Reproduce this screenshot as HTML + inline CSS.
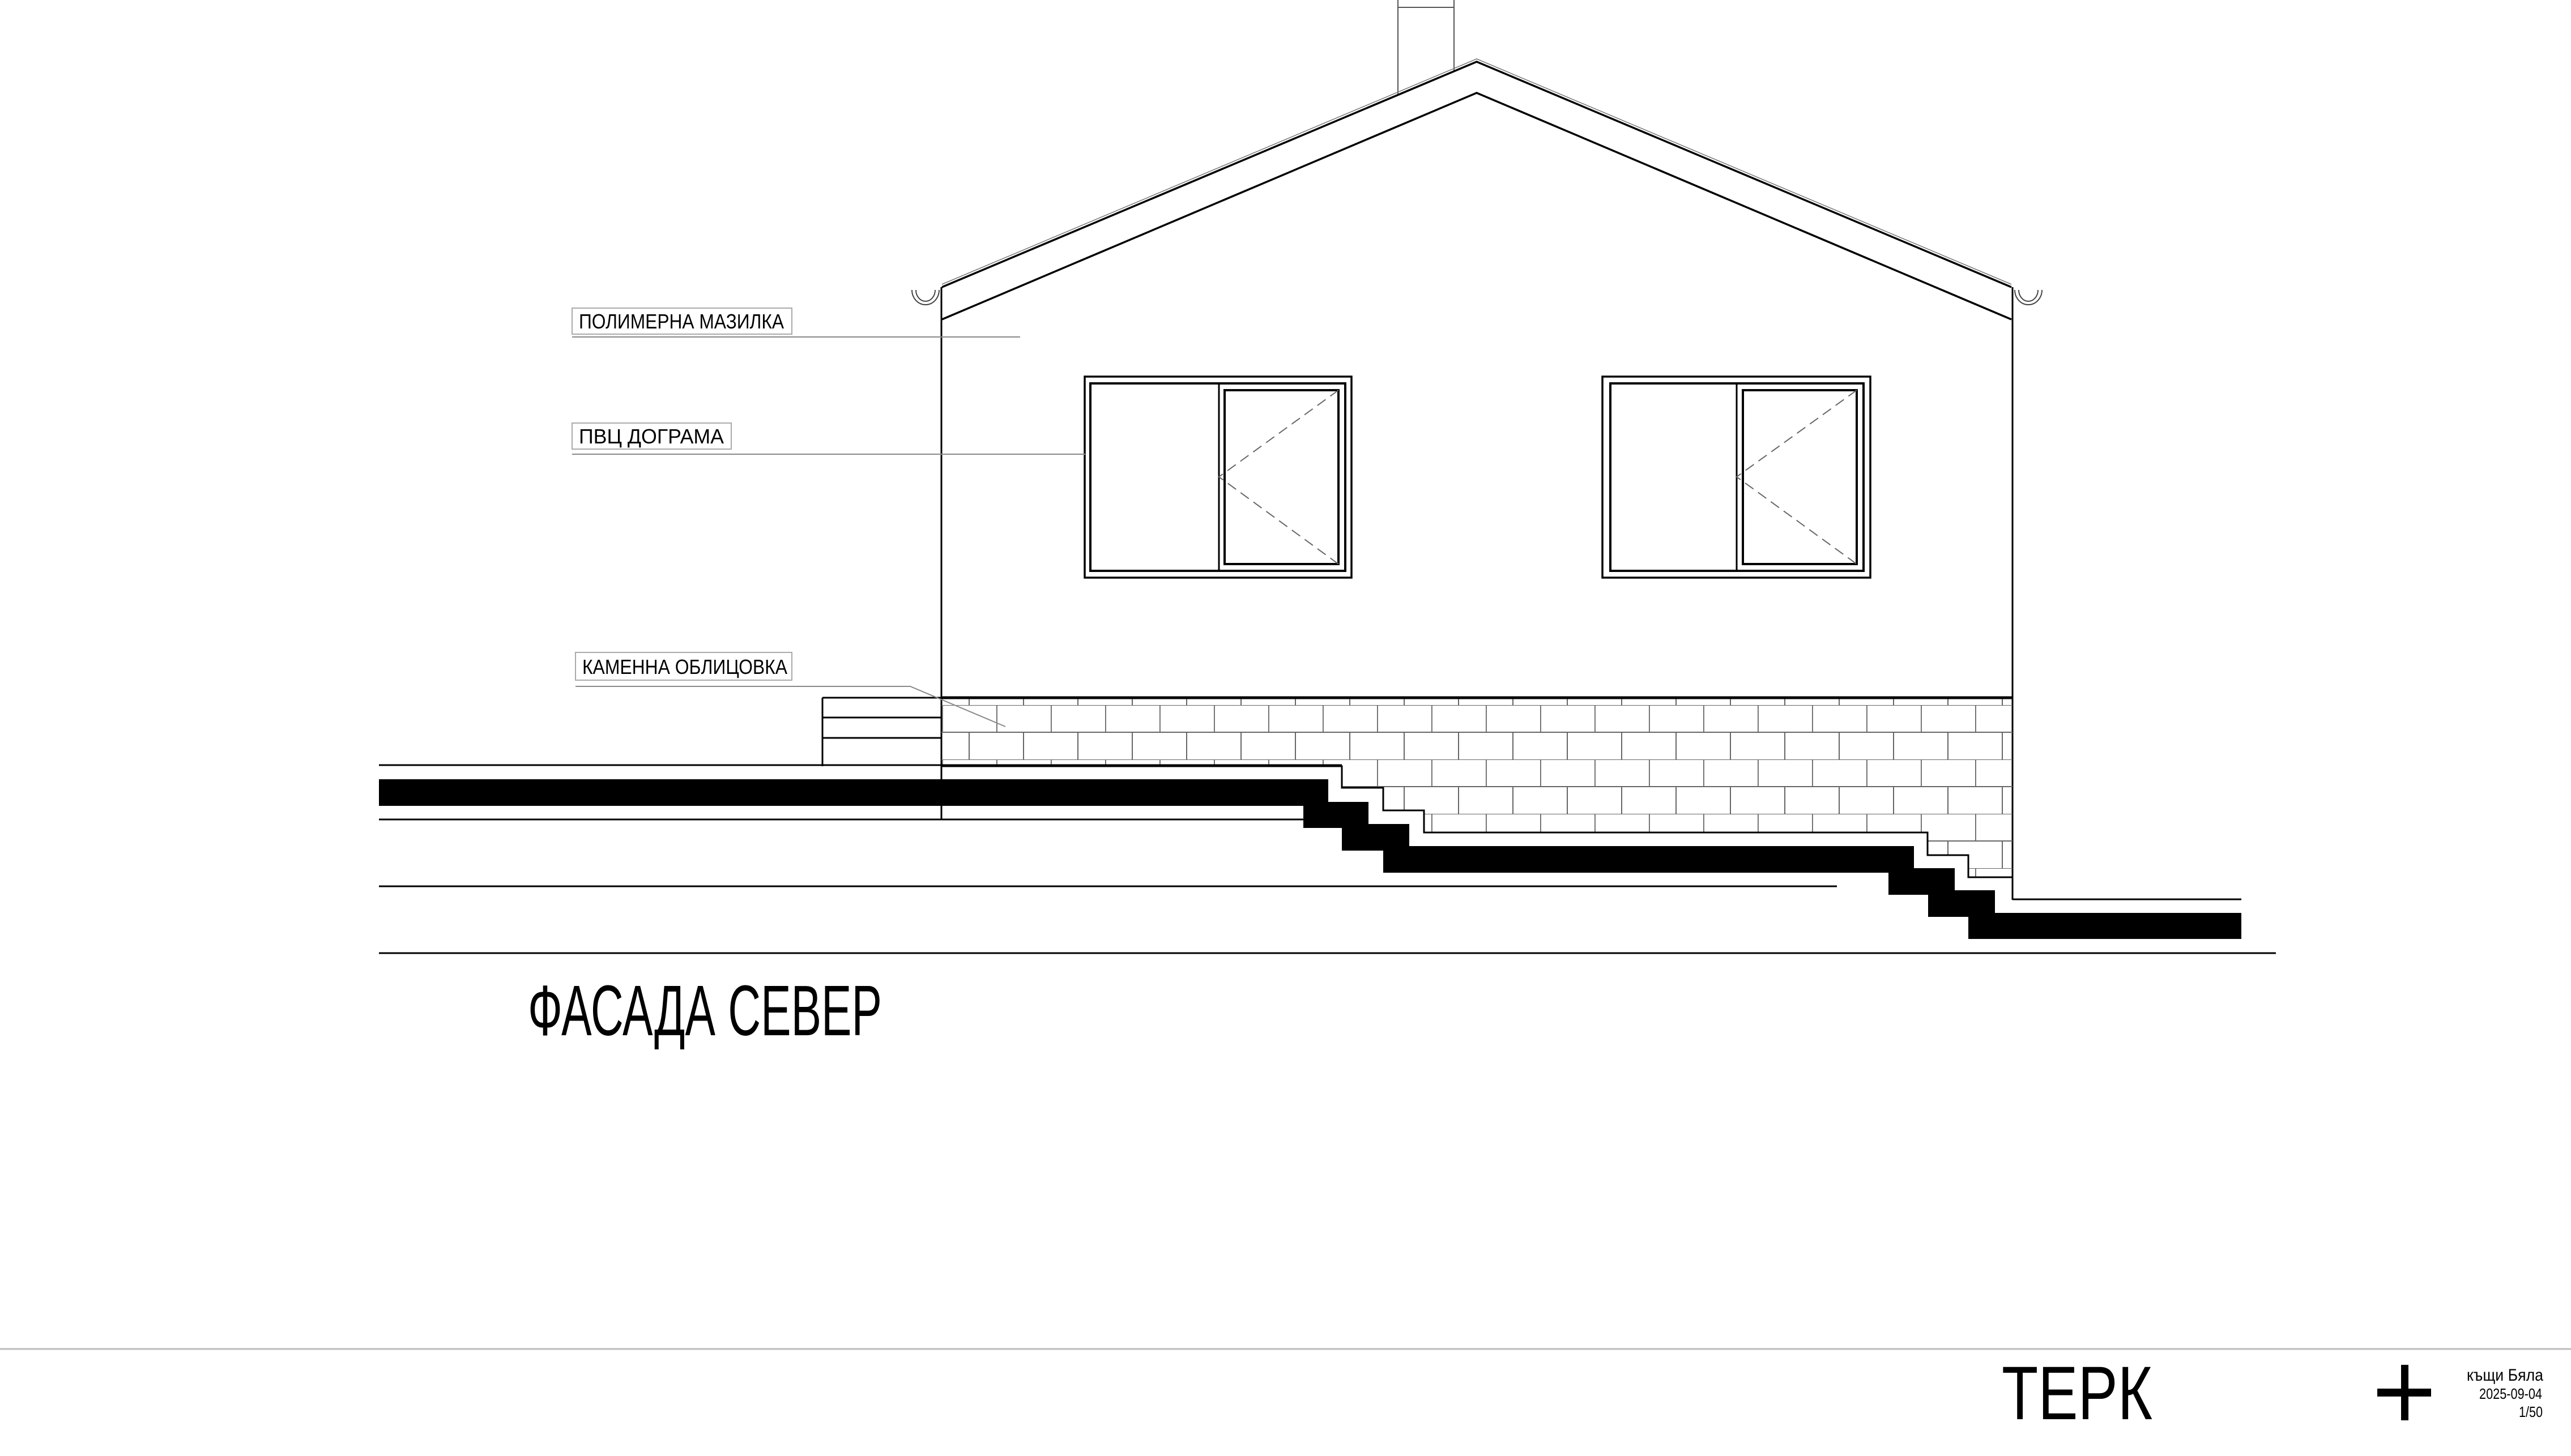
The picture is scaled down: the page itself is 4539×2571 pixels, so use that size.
<!DOCTYPE html>
<html><head><meta charset="utf-8"><style>html,body{margin:0;padding:0;background:#fff}svg{display:block}</style></head>
<body>
<svg xmlns="http://www.w3.org/2000/svg" width="4539" height="2571" viewBox="0 0 4539 2571" font-family="Liberation Sans, sans-serif">
<defs>
<pattern id="br" patternUnits="userSpaceOnUse" x="31" y="1245" width="96" height="96">
<path d="M0 0H96M0 48H96M0.8 0V48M48 48V96" stroke="#666" stroke-width="2" fill="none"/>
</pattern>
<clipPath id="bc"><polygon points="1662,1232 3553,1232 3553,1549 3475,1549 3475,1510 3403,1510 3403,1470 2514,1470 2514,1431 2442,1431 2442,1391 2369,1391 2369,1353 1662,1353"/></clipPath>
</defs>
<rect width="4539" height="2571" fill="#fff"/>
<path d="M2468 166V0M2567 126V0M2468 13H2567" stroke="#555" stroke-width="2" fill="none"/>
<path d="M1663 507L2607 109L3551 507" stroke="#000" stroke-width="3.5" fill="none"/>
<path d="M1663 502L2607 104L3551 502" stroke="#777" stroke-width="1.5" fill="none"/>
<path d="M1663 564L2607 164L3551 564" stroke="#000" stroke-width="3.5" fill="none"/>
<path d="M1610 512A24 26 0 0 0 1658 512M1617 512A17 20 0 0 0 1651 512" stroke="#444" stroke-width="2" fill="none"/>
<path d="M3557 512A24 26 0 0 0 3605 512M3564 512A17 20 0 0 0 3598 512" stroke="#444" stroke-width="2" fill="none"/>
<path d="M1662 507V1446M3553 507V1589" stroke="#000" stroke-width="3" fill="none"/>
<g fill="none" stroke="#000">
<rect x="1915" y="665" width="471" height="355" stroke-width="3.5"/>
<rect x="1925" y="677" width="450" height="331" stroke-width="4"/>
<path d="M2152 677V1008" stroke-width="3"/>
<rect x="2162" y="689" width="201" height="307" stroke-width="4"/>
<path d="M2363 689L2152 842L2363 996" stroke="#666" stroke-width="2" stroke-dasharray="18 10"/>
<rect x="2829" y="665" width="473" height="355" stroke-width="3.5"/>
<rect x="2843" y="677" width="447" height="331" stroke-width="4"/>
<path d="M3066 677V1008" stroke-width="3"/>
<rect x="3077" y="689" width="201" height="307" stroke-width="4"/>
<path d="M3278 689L3066 842L3278 996" stroke="#666" stroke-width="2" stroke-dasharray="18 10"/>
</g>
<rect x="1600" y="1200" width="2000" height="400" fill="url(#br)" clip-path="url(#bc)"/>
<path d="M1662 1232H3553" stroke="#000" stroke-width="5"/>
<polyline points="1662,1353 2369,1353 2369,1391 2442,1391 2442,1431 2514,1431 2514,1470 3403,1470 3403,1510 3475,1510 3475,1549 3553,1549" fill="none" stroke="#000" stroke-width="3"/>
<path d="M1452 1232V1353M1452 1232H1662M1452 1267H1662M1452 1303H1662" stroke="#000" stroke-width="3" fill="none"/>
<path d="M669 1351H2369M669 1447H2301M669 1565H3243M669 1683H4018M3553 1588H3957" stroke="#000" stroke-width="3" fill="none"/>
<polygon fill="#000" points="669,1376 2345,1376 2345,1416 2416,1416 2416,1455 2488,1455 2488,1494 3379,1494 3379,1533 3451,1533 3451,1572 3522,1572 3522,1612 3957,1612 3957,1658 3475,1658 3475,1619 3404,1619 3404,1580 3334,1580 3334,1541 2442,1541 2442,1502 2369,1502 2369,1462 2301,1462 2301,1423 669,1423"/>
<g fill="none" stroke="#aaa" stroke-width="2">
<rect x="1010" y="544" width="388" height="46"/>
<rect x="1010" y="747" width="281" height="46"/>
<rect x="1016" y="1152" width="382" height="49"/>
</g>
<path d="M1010 595H1801M1010 802H1916M1016 1212H1607L1775 1283" stroke="#888" stroke-width="2" fill="none"/>
<g font-size="36" fill="#000">
<text x="1022" y="580" textLength="362" lengthAdjust="spacingAndGlyphs">ПОЛИМЕРНА МАЗИЛКА</text>
<text x="1022" y="783" textLength="256" lengthAdjust="spacingAndGlyphs">ПВЦ ДОГРАМА</text>
<text x="1028" y="1190" textLength="362" lengthAdjust="spacingAndGlyphs">КАМЕННА ОБЛИЦОВКА</text>
</g>
<text x="932" y="1828" font-size="126" textLength="625" lengthAdjust="spacingAndGlyphs" fill="#000">ФАСАДА СЕВЕР</text>
<path d="M0 2382H4539" stroke="#bbb" stroke-width="3"/>
<text x="3534" y="2506" font-size="134" textLength="266" lengthAdjust="spacingAndGlyphs" fill="#000">ТЕРК</text>
<rect x="4239" y="2410" width="13" height="98" fill="#000"/>
<rect x="4197" y="2452" width="95" height="14" fill="#000"/>
<g fill="#000">
<text x="4355" y="2438" font-size="30" textLength="135" lengthAdjust="spacingAndGlyphs">къщи Бяла</text>
<text x="4377" y="2470" font-size="26" textLength="111" lengthAdjust="spacingAndGlyphs">2025-09-04</text>
<text x="4447" y="2502" font-size="26" textLength="42" lengthAdjust="spacingAndGlyphs">1/50</text>
</g>
</svg>
</body></html>
